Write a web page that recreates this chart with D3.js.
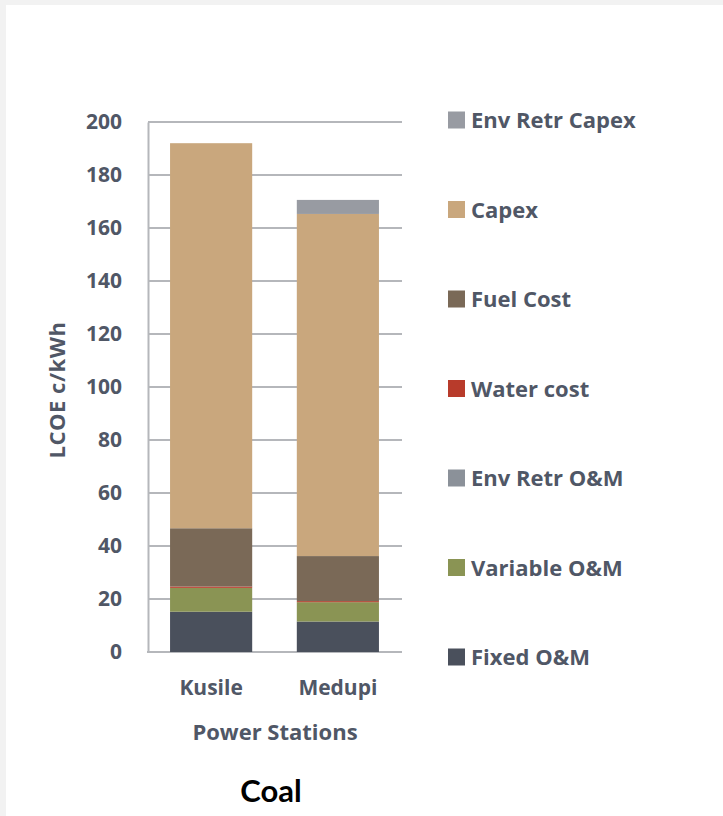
<!DOCTYPE html>
<html>
<head>
<meta charset="utf-8">
<script src="https://cdn.jsdelivr.net/npm/d3@7"></script>
<style>
  html, body { margin: 0; padding: 0; background: #f2f2f2; }
  svg { display: block; }
</style>
</head>
<body>
<svg id="chart" width="723" height="816"></svg>
<script>
// Levelised cost of electricity for the two coal stations, c/kWh
const categories = ["Kusile", "Medupi"];
const fixedOM      = [15.2, 11.5];
const variableOM   = [9.0, 7.3];
const envRetrOM    = [0, 0];
const waterCost    = [0.5, 0.4];
const fuelCost     = [22.0, 17.0];
const capex        = [145.3, 129.1];
const envRetrCapex = [0, 5.3];
const yTicks = [0, 20, 40, 60, 80, 100, 120, 140, 160, 180, 200];

// stacking order, bottom to top
const seriesNames  = ["Fixed O&M", "Variable O&M", "Env Retr O&M", "Water cost", "Fuel Cost", "Capex", "Env Retr Capex"];
const seriesValues = [fixedOM, variableOM, envRetrOM, waterCost, fuelCost, capex, envRetrCapex];
const seriesColors = ["#4a505c", "#8a9454", "#8b9199", "#b83b2b", "#7a6957", "#c9a77d", "#989ba2"];

const FONT = "'Open Sans', Lato, sans-serif";
const TEXT = "#505766";

const svg = d3.select("#chart");

// white panel
svg.append("rect").attr("x", 6).attr("y", 5).attr("width", 717).attr("height", 811).attr("fill", "#ffffff");

const rows = categories.map((c, i) => {
  const r = { cat: c };
  seriesNames.forEach((s, k) => { r[s] = seriesValues[k][i]; });
  return r;
});
const stacked = d3.stack().keys(seriesNames)(rows);

const y = d3.scaleLinear().domain([0, 200]).range([652, 122]);
const x = d3.scaleBand().domain(categories).range([148, 401]).paddingInner(0.352).paddingOuter(0.174);

// gridlines
svg.append("g").selectAll("line").data(yTicks.filter(t => t > 0)).join("line")
  .attr("x1", 148).attr("x2", 402)
  .attr("y1", d => y(d)).attr("y2", d => y(d))
  .attr("stroke", "#b5b7bb").attr("stroke-width", 2);

// y axis
const yAxis = svg.append("g").attr("transform", "translate(148,0)")
  .call(d3.axisLeft(y).tickValues(yTicks).tickSize(0).tickPadding(26));
yAxis.select(".domain").attr("stroke", "#b5b7bb").attr("stroke-width", 2);
yAxis.selectAll("text").attr("font-family", FONT).attr("font-weight", "bold")
  .attr("font-size", 21).attr("fill", TEXT);

// x baseline
svg.append("line").attr("x1", 147).attr("x2", 402).attr("y1", y(0)).attr("y2", y(0))
  .attr("stroke", "#b5b7bb").attr("stroke-width", 2);

// stacked bars
svg.append("g").selectAll("g").data(stacked).join("g")
  .attr("fill", (d, i) => seriesColors[i])
  .selectAll("rect").data(d => d).join("rect")
  .attr("x", d => x(d.data.cat))
  .attr("width", x.bandwidth())
  .attr("y", d => y(d[1]))
  .attr("height", d => y(d[0]) - y(d[1]));

// x axis labels
const xAxis = svg.append("g").attr("transform", `translate(0,${y(0)})`)
  .call(d3.axisBottom(x).tickSize(0).tickPadding(28));
xAxis.select(".domain").remove();
xAxis.selectAll("text").attr("font-family", FONT).attr("font-weight", "bold")
  .attr("font-size", 21).attr("fill", TEXT);

// axis titles
svg.append("text").attr("x", 275).attr("y", 740).attr("text-anchor", "middle")
  .attr("font-family", FONT).attr("font-weight", "bold").attr("font-size", 22).attr("fill", TEXT)
  .text("Power Stations");
svg.append("text").attr("transform", "translate(65,390) rotate(-90)").attr("text-anchor", "middle")
  .attr("font-family", FONT).attr("font-weight", "bold").attr("font-size", 22).attr("fill", TEXT)
  .attr("letter-spacing", 0.5)
  .text("LCOE c/kWh");

// legend, top to bottom in reverse stacking order
const legendOrder = d3.range(seriesNames.length).reverse();
const legend = svg.append("g").selectAll("g").data(legendOrder).join("g")
  .attr("transform", (k, i) => `translate(448,${120 + i * 89.5})`);
legend.append("rect").attr("x", 0).attr("y", -8.5).attr("width", 17).attr("height", 17)
  .attr("fill", k => seriesColors[k]);
legend.append("text").attr("x", 23).attr("y", 8)
  .attr("font-family", FONT).attr("font-weight", "bold").attr("font-size", 22).attr("fill", TEXT)
  .text(k => seriesNames[k]);

// chart caption
svg.append("text").attr("x", 271).attr("y", 802).attr("text-anchor", "middle")
  .attr("font-family", "Lato, sans-serif").attr("font-weight", "bold").attr("font-size", 31).attr("fill", "#000000")
  .text("Coal");
</script>
</body>
</html>
